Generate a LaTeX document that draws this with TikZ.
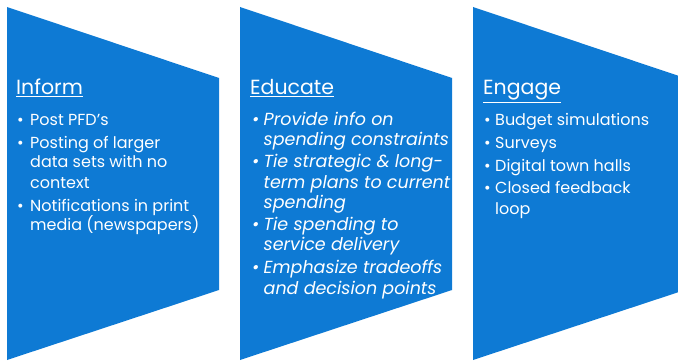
\documentclass[tikz,border=0pt]{standalone}
\usepackage{fontspec}
\setmainfont{Poppins}
\definecolor{chevblue}{RGB}{14,122,212}
\newlength{\bhang}
\newcommand{\bitem}[1]{\par\hangindent=\bhang\hangafter=1\noindent\makebox[\bhang][l]{\textbullet}#1}
\newcommand{\blockbox}[3]{\parbox[t]{225pt}{\raggedright\fontsize{#2}{20}\selectfont\setlength{\parskip}{3pt}\setlength{\bhang}{#1}#3}}
\tikzset{
  chev/.style={fill=chevblue, draw=none},
  ttl/.style={anchor=base west, text=white, inner sep=0pt, font=\fontsize{20.5}{22}\selectfont},
  blk/.style={anchor=base west, text=white, inner sep=0pt},
}
\begin{document}
\begin{tikzpicture}[x=1pt,y=-1pt]
\useasboundingbox (0,0) rectangle (678,361);
\clip (0,0) rectangle (678,361);
\fill[chev] (7,7) -- (219,78) -- (219,290) -- (7,360) -- cycle;
\fill[chev] (240,7) -- (452,78) -- (452,290) -- (240,360) -- cycle;
\fill[chev] (473,7) -- (685,78) -- (685,290) -- (473,360) -- cycle;
\node[ttl] (t1) at (16,95) {\underline{Inform}};
\node[ttl] (t2) at (250,95) {\underline{Educate}};
\node[ttl] (t3) at (483,95) {\underline{Engage}};
\node[blk] (b1) at (17,125) {\blockbox{13pt}{16}{%
\bitem{Post PFD's}
\bitem{Posting of larger\newline data sets with no\newline context}
\bitem{Notifications in print\newline media (newspapers)}}};
\node[blk] (b2) at (252,125) {\blockbox{11.5pt}{17.5}{\itshape
\bitem{Provide info on\newline spending constraints}
\bitem{Tie strategic \& long-\newline term plans to current\newline spending}
\bitem{Tie spending to\newline service delivery}
\bitem{Emphasize tradeoffs\newline and decision points}}};
\node[blk] (b3) at (484,125) {\blockbox{11pt}{16}{%
\bitem{Budget simulations}
\bitem{Surveys}
\bitem{Digital town halls}
\bitem{Closed feedback\newline loop}}};
\end{tikzpicture}
\end{document}
